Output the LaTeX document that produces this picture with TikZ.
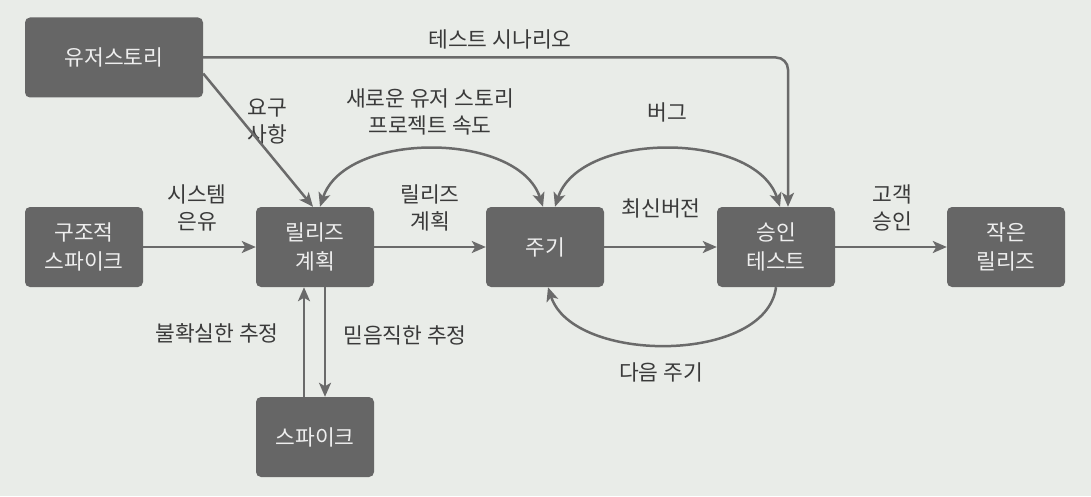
\documentclass[tikz,border=0pt]{standalone}
\usepackage{fontspec}
\setmainfont{Noto Sans CJK KR}
\usetikzlibrary{arrows.meta}
\definecolor{fond}{RGB}{233,236,232}
\definecolor{boite}{RGB}{102,102,102}
\definecolor{boitetxt}{RGB}{238,238,238}
\definecolor{fleche}{RGB}{106,106,106}
\definecolor{texte}{RGB}{58,58,58}

\begin{document}
\begin{tikzpicture}[x=1pt,y=1pt,
	box/.style={fill=boite,rounded corners=5pt,text=boitetxt,align=center,
		minimum width=118pt,minimum height=80pt,inner sep=0pt,
		font=\fontsize{21.5}{29.5}\selectfont},
	lbl/.style={text=texte,align=center,inner sep=0pt,font=\fontsize{21.5}{27}\selectfont},
	fl/.style={->,draw=fleche,line width=2.5pt},
	>={Stealth[length=14pt,width=12pt,inset=3.5pt]}]
	\fill[fond] (0,0) rectangle (1091,496);
	\useasboundingbox (0,0) rectangle (1091,496);
	\node[box,minimum width=178pt] (us) at (114,438.5){유저스토리};
	\node[box] (sp0) at (84,249){구조적\\스파이크};
	\node[box] (rp) at (315,249){릴리즈\\계획};
	\node[box] (it) at (545,249){주기};
	\node[box] (at) at (776,249){승인\\테스트};
	\node[box] (sr) at (1006,249){작은\\릴리즈};
	\node[box] (sp) at (315,59){스파이크};
	\node[lbl] (lts) at (500,457){테스트 시나리오};
	\node[lbl] (lrq) at (267,374){요구\\사항};
	\node[lbl] (lnu) at (430,384.5){새로운 유저 스토리\\프로젝트 속도};
	\node[lbl] (lbg) at (667,384){버그};
	\node[lbl] (lsm) at (197,288){시스템\\은유};
	\node[lbl] (lrp) at (430,288){릴리즈\\계획};
	\node[lbl] (lnv) at (661,288){최신버전};
	\node[lbl] (lcs) at (892,288){고객\\승인};
	\node[lbl] (lue) at (217,163){불확실한 추정};
	\node[lbl] (lce) at (405,161){믿음직한 추정};
	\node[lbl] (lni) at (661,124){다음 주기};
	\draw[fl,rounded corners=12pt] (us.east) -| ([xshift=12pt]at.north);
	\draw[fl] ([yshift=-16pt]us.east) -- ([xshift=-2pt]rp.north);
	\draw[fl] (sp0) -- (rp);
	\draw[fl] (rp) -- (it);
	\draw[fl] (it) -- (at);
	\draw[fl] (at) -- (sr);
	\draw[fl,<->] ([xshift=5pt]rp.north) .. controls +(25,76) and +(-25,76) .. ([xshift=-2pt]it.north);
	\draw[fl,<->] ([xshift=10pt]it.north) .. controls +(25,76) and +(-25,76) .. ([xshift=4pt]at.north);
	\draw[fl] (at.south) .. controls +(-10,-77) and +(25,-77) .. ([xshift=3pt]it.south);
	\draw[fl] ([xshift=-11pt]sp.north) -- ([xshift=-11pt]rp.south);
	\draw[fl] ([xshift=10pt]rp.south) -- ([xshift=10pt]sp.north);
\end{tikzpicture}
\end{document}
